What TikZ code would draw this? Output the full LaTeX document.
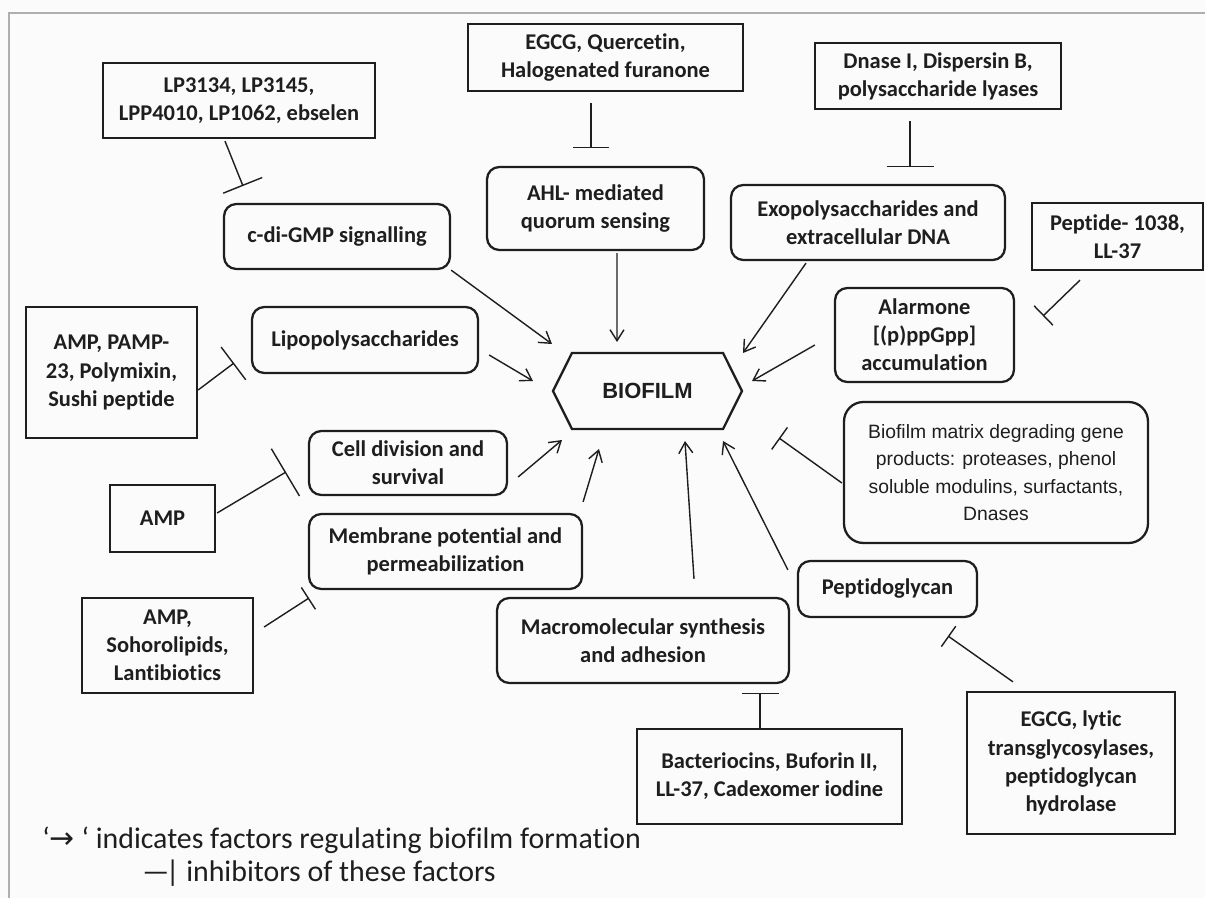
\documentclass[tikz,border=0pt]{standalone}
\usepackage{fontspec}
\setmainfont[Ligatures={NoCommon}]{Carlito}
\newfontfamily\arialfont{Liberation Sans}
\newfontfamily\arrowfont{DejaVu Sans}
\usetikzlibrary{arrows.meta,calc,shapes.symbols}
\definecolor{inkDark}{RGB}{30,30,30}
\definecolor{frameGray}{RGB}{175,175,175}
\definecolor{paperWhite}{RGB}{251,251,251}
\tikzset{
  inhibitor box/.style={draw=inkDark,line width=1.3pt,align=center,text=inkDark,font=\fontsize{12.8}{16}\selectfont\bfseries,inner sep=0pt},
  factor box/.style={inhibitor box,rounded corners=7pt},
  core node/.style={signal,signal to=east and west,signal pointer angle=127,draw=inkDark,line width=1.3pt,text=inkDark,font=\arialfont\fontsize{12.5}{15}\selectfont\bfseries,inner sep=0pt},
  reg arrow/.style={-{Straight Barb[length=2.2mm,width=2.8mm]},line width=0.8pt,draw=inkDark},
  inhib line/.style={-{Bar[width=#1]},line width=0.8pt,draw=inkDark},
  inhib line/.default=8mm,
  legend text/.style={anchor=base west,inner sep=0pt,text=inkDark,font=\fontsize{17}{20}\selectfont}
}

\begin{document}
\begin{tikzpicture}[x=0.02cm,y=-0.02cm]
        \fill[paperWhite] (0,0) rectangle (1205,898);
        \useasboundingbox (0,0) rectangle (1205,898);
        \draw[frameGray,line width=1.2pt] (9,898) -- (9,13) -- (1205,13);
        % centre
        \node[core node,minimum width=3.78cm,minimum height=1.52cm] (bio) at (647.5,391) {BIOFILM};
        % regulating factors
        \node[factor box,minimum width=4.34cm,minimum height=1.66cm] (ahl) at (595.5,208.5) {AHL- mediated\\quorum sensing};
        \node[factor box,minimum width=4.52cm,minimum height=1.3cm] (cdi) at (337,236.5) {c-di-GMP signalling};
        \node[factor box,minimum width=5.48cm,minimum height=1.5cm] (exo) at (868,222.5) {Exopolysaccharides and\\extracellular DNA};
        \node[factor box,minimum width=3.58cm,minimum height=1.88cm] (alarm) at (924.5,335) {Alarmone\\{[(p)ppGpp]}\\accumulation};
        \node[factor box,minimum width=4.52cm,minimum height=1.32cm] (lipo) at (365,340) {Lipopolysaccharides};
        \node[factor box,minimum width=3.96cm,minimum height=1.28cm] (cell) at (408,463) {Cell division and\\survival};
        \node[factor box,minimum width=5.46cm,minimum height=1.5cm] (membr) at (445.5,551.5) {Membrane potential and\\permeabilization};
        \node[factor box,minimum width=5.84cm,minimum height=1.7cm] (macro) at (643,640.5) {Macromolecular synthesis\\and adhesion};
        \node[factor box,minimum width=3.58cm,minimum height=1.12cm] (pepg) at (887.5,589) {Peptidoglycan};
        \node[factor box,rounded corners=11pt,minimum width=6.08cm,minimum height=2.82cm,font=\arialfont\fontsize{11}{15.5}\selectfont] (matrix) at (996,472.5) {Biofilm matrix degrading gene\\products: proteases, phenol\\soluble modulins, surfactants,\\Dnases};
        % inhibitors
        \node[inhibitor box,minimum width=5.44cm,minimum height=1.5cm] (lp) at (239,100.5) {LP3134, LP3145,\\LPP4010, LP1062, ebselen};
        \node[inhibitor box,minimum width=5.5cm,minimum height=1.34cm] (egcgq) at (605.5,57.5) {EGCG, Quercetin,\\Halogenated furanone};
        \node[inhibitor box,minimum width=4.92cm,minimum height=1.32cm] (dnase) at (938,76) {Dnase I, Dispersin B,\\polysaccharide lyases};
        \node[inhibitor box,minimum width=3.42cm,minimum height=1.34cm] (pep1038) at (1117.5,236.5) {Peptide- 1038,\\LL-37};
        \node[inhibitor box,minimum width=3.42cm,minimum height=2.62cm] (amppamp) at (111.5,372.5) {AMP, PAMP-\\23, Polymixin,\\Sushi peptide};
        \node[inhibitor box,minimum width=2.1cm,minimum height=1.34cm] (amp) at (162.5,518.5) {AMP};
        \node[inhibitor box,minimum width=3.42cm,minimum height=1.9cm] (ampsoho) at (167.5,645.5) {AMP,\\Sohorolipids,\\Lantibiotics};
        \node[inhibitor box,minimum width=5.3cm,minimum height=1.9cm] (bacterio) at (769.5,776.5) {Bacteriocins, Buforin II,\\LL-37, Cadexomer iodine};
        \node[inhibitor box,minimum width=4.16cm,minimum height=2.84cm] (egcgl) at (1071,763) {EGCG, lytic\\transglycosylases,\\peptidoglycan\\hydrolase};
        % free ends near the centre
        \coordinate (tip cdi) at (552,344);
        \coordinate (tip lipo) at (533,381);
        \coordinate (tip ahl) at (617,342);
        \coordinate (tip exo) at (743,353);
        \coordinate (tip alarm) at (752,381);
        \coordinate (tip cell) at (562,440);
        \coordinate (tip membr) at (599,449);
        \coordinate (tip macro) at (685,441);
        \coordinate (tip pepg) at (723,441);
        \draw[reg arrow] (cdi.south east) -- (tip cdi);
        \draw[reg arrow] ($(lipo.east)+(10,15)$) -- (tip lipo);
        \draw[reg arrow] ($(ahl.south)+(21.5,2)$) -- (tip ahl);
        \draw[reg arrow] ($(exo.south)+(-62,2)$) -- (tip exo);
        \draw[reg arrow] ($(alarm.west)+(-19,10)$) -- (tip alarm);
        \draw[reg arrow] ($(cell.east)+(10,14)$) -- (tip cell);
        \draw[reg arrow] ($(membr.north east)+(0,-11)$) -- (tip membr);
        \draw[reg arrow] ($(macro.north)+(51,-18)$) -- (tip macro);
        \draw[reg arrow] ($(pepg.north west)+(-9,10)$) -- (tip pepg);
        % bars of the inhibitors
        \coordinate (bar lp) at (243,186);
        \coordinate (bar egcgq) at (591,148);
        \coordinate (bar dnase) at (910,167);
        \coordinate (bar pep1038) at (1043,316);
        \coordinate (bar amppamp) at (234,363);
        \coordinate (bar amp) at (286,472);
        \coordinate (bar ampsoho) at (309,598);
        \coordinate (bar matrix) at (779,438);
        \coordinate (bar bacterio) at (760,693);
        \coordinate (bar egcgl) at (948,636);
        \draw[inhib line=8.4mm] ($(lp.south)+(-14,2)$) -- (bar lp);
        \draw[inhib line=7.4mm] ($(egcgq.south)+(-14.5,11)$) -- (bar egcgq);
        \draw[inhib line=9.4mm] ($(dnase.south)+(-28,11)$) -- (bar dnase);
        \draw[inhib line=5.4mm] ($(pep1038.south)+(-37.5,9)$) -- (bar pep1038);
        \draw[inhib line=8.2mm] ($(amppamp.east)+(0,17.5)$) -- (bar amppamp);
        \draw[inhib line=11mm] ($(amp.east)+(1,-5.5)$) -- (bar amp);
        \draw[inhib line=5.2mm] ($(ampsoho.east)+(10,-18.5)$) -- (bar ampsoho);
        \draw[inhib line=5.4mm] ($(matrix.west)+(-1,10.5)$) -- (bar matrix);
        \draw[inhib line=7.4mm] ($(bacterio.north)+(-9.5,0)$) -- (bar bacterio);
        \draw[inhib line=5mm] ($(egcgl.north)+(-58,-9)$) -- (bar egcgl);
        % key
        \node[legend text] (key arrow) at (42,848) {‘{\arrowfont →} ‘ indicates factors regulating biofilm formation};
        \node[legend text] (key bar) at (142,882) {—\kern-0.12em| inhibitors of these factors};
\end{tikzpicture}
\end{document}
